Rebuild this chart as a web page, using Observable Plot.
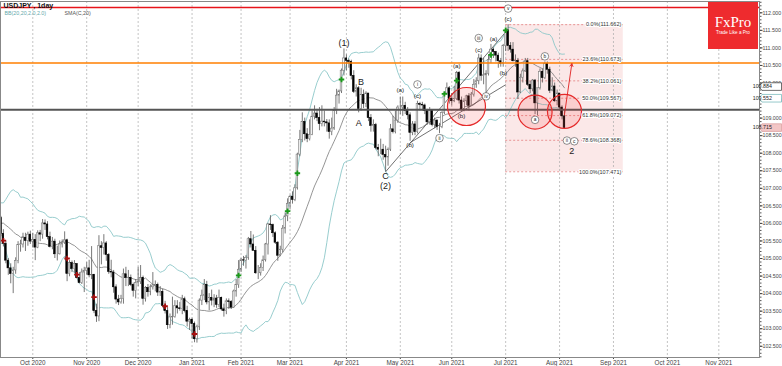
<!DOCTYPE html>
<html><head><meta charset="utf-8">
<script src="https://cdn.jsdelivr.net/npm/d3@7"></script>
<script src="https://cdn.jsdelivr.net/npm/@observablehq/plot@0.6"></script>
<style>html,body{margin:0;padding:0;background:#fff}#chart svg{display:block}</style>
</head><body><div id="chart"></div>
<script>
// ---------- DATA ----------
const firstDay = "2020-09-14";
const lastDay = "2021-11-30";
const skippedDays = ["2020-12-25", "2021-01-01"];
// closes before the visible window (Aug 17 - Sep 11 2020), only used by the 20-day indicators
const warmupCloses = [106.00,105.40,106.12,105.80,105.78,105.95,106.38,106.00,106.58,105.37,105.90,105.95,106.18,106.18,106.24,106.25,105.93,106.10,106.14,106.16];
// daily candles [open, high, low, close]
const sep2020 = [[106.15,106.20,105.62,105.70],[105.70,105.82,105.33,105.42],[105.42,105.50,104.85,104.94],[104.94,105.00,104.52,104.72],[104.72,104.85,104.28,104.56],[104.56,104.75,104.00,104.66],[104.66,105.02,104.55,104.93],[104.93,105.48,104.85,105.38],[105.38,105.52,105.18,105.40],[105.40,105.72,105.30,105.58],[105.58,105.72,105.20,105.50],[105.50,105.75,105.35,105.68],[105.68,105.78,105.40,105.48]];
const oct2020 = [[105.48,105.72,105.30,105.53],[105.53,105.68,104.94,105.31],[105.31,105.79,105.28,105.72],[105.72,105.80,105.48,105.68],[105.68,106.11,105.55,106.00],[106.00,106.10,105.80,105.97],[105.97,106.05,105.53,105.61],[105.61,105.75,105.30,105.33],[105.33,105.60,105.25,105.48],[105.48,105.55,105.00,105.12],[105.12,105.35,104.93,105.12],[105.12,105.50,105.10,105.40],[105.40,105.53,105.30,105.45],[105.45,105.76,105.40,105.52],[105.52,105.55,104.34,104.56],[104.56,104.94,104.48,104.87],[104.87,104.93,104.60,104.70],[104.70,104.94,104.58,104.84],[104.84,104.85,104.42,104.44],[104.44,104.60,104.28,104.30],[104.30,104.70,104.26,104.60],[104.60,104.75,104.03,104.65]];
const nov2020 = [[104.65,104.88,104.53,104.72],[104.72,104.95,104.45,104.52],[104.52,105.34,104.40,104.53],[104.53,104.55,103.43,103.50],[103.50,103.70,103.18,103.35],[103.35,105.65,103.20,105.35],[105.35,105.48,104.82,105.30],[105.30,105.68,105.10,105.43],[105.43,105.48,104.92,105.10],[105.10,105.14,104.55,104.62],[104.62,104.95,104.45,104.60],[104.60,104.66,104.01,104.18],[104.18,104.25,103.70,103.83],[103.83,103.95,103.66,103.75],[103.75,103.95,103.70,103.85],[103.85,104.70,103.70,104.55],[104.55,104.75,104.20,104.45],[104.45,104.66,104.20,104.45],[104.45,104.53,104.20,104.25],[104.25,104.30,103.90,104.08],[104.08,104.40,103.85,104.30]];
const dec2020 = [[104.30,104.75,104.20,104.33],[104.33,104.80,104.26,104.44],[104.44,104.50,103.67,103.85],[103.85,104.20,103.76,104.16],[104.16,104.26,103.90,104.04],[104.04,104.25,103.94,104.18],[104.18,104.60,104.10,104.23],[104.23,104.36,104.05,104.25],[104.25,104.30,103.92,104.03],[104.03,104.20,103.92,104.05],[104.05,104.13,103.60,103.65],[103.65,103.78,103.42,103.50],[103.50,103.60,102.98,103.10],[103.10,103.42,103.00,103.32],[103.32,103.90,103.10,103.33],[103.33,103.80,103.30,103.64],[103.64,103.80,103.42,103.58],[103.58,103.75,103.50,103.56],[103.56,103.95,103.40,103.84],[103.84,103.90,103.45,103.50],[103.50,103.64,103.05,103.20],[103.20,103.30,102.95,103.25]];
const jan2021 = [[103.25,103.30,102.71,103.13],[103.13,103.19,102.60,102.70],[102.70,103.10,102.59,103.04],[103.04,103.85,102.95,103.80],[103.80,104.10,103.66,103.94],[103.94,104.40,103.80,104.25],[104.25,104.35,103.68,103.75],[103.75,104.00,103.51,103.88],[103.88,104.10,103.65,103.80],[103.80,103.97,103.60,103.86],[103.86,103.95,103.58,103.68],[103.68,104.10,103.60,103.88],[103.88,103.90,103.50,103.55],[103.55,103.70,103.33,103.50],[103.50,103.85,103.40,103.78],[103.78,103.85,103.55,103.76],[103.76,103.80,103.55,103.60],[103.60,104.10,103.58,104.06],[104.06,104.40,103.90,104.24],[104.24,104.94,104.15,104.68]];
const feb2021 = [[104.68,105.00,104.60,104.95],[104.95,105.06,104.78,104.94],[104.94,105.08,104.70,105.02],[105.02,105.60,104.95,105.55],[105.55,105.77,105.30,105.40],[105.40,105.67,105.20,105.22],[105.22,105.34,104.55,104.58],[104.58,104.80,104.40,104.58],[104.58,104.85,104.50,104.73],[104.73,105.07,104.63,104.95],[104.95,105.43,104.90,105.40],[105.40,106.00,105.10,105.97],[105.97,106.22,105.80,105.95],[105.95,105.98,105.60,105.72],[105.72,105.76,105.40,105.45],[105.45,105.48,104.92,105.08],[105.08,105.35,105.05,105.25],[105.25,105.94,105.16,105.85],[105.85,106.30,105.70,106.20],[106.20,106.70,106.05,106.56]];
const mar2021 = [[106.56,106.80,106.40,106.76],[106.76,106.90,106.55,106.67],[106.67,107.10,106.62,107.00],[107.00,108.00,106.95,107.96],[107.96,108.65,107.90,108.38],[108.38,109.15,108.30,108.89],[108.89,109.00,108.35,108.54],[108.54,108.70,108.30,108.40],[108.40,108.95,108.35,108.52],[108.52,109.20,108.50,109.04],[109.04,109.35,108.95,109.13],[109.13,109.25,108.90,109.00],[109.00,109.30,108.64,108.83],[108.83,109.35,108.75,108.90],[108.90,109.20,108.75,108.88],[108.88,108.96,108.60,108.85],[108.85,108.95,108.40,108.60],[108.60,109.00,108.50,108.70],[108.70,109.30,108.65,109.20],[109.20,109.82,109.10,109.64],[109.64,109.80,109.40,109.76],[109.76,110.40,109.70,110.35],[110.35,110.97,110.20,110.70]];
const apr2021 = [[110.70,110.80,110.35,110.63],[110.63,110.68,110.42,110.60],[110.60,110.65,110.09,110.20],[110.20,110.35,109.70,109.75],[109.75,109.95,109.60,109.85],[109.85,109.90,109.15,109.26],[109.26,109.85,109.20,109.66],[109.66,109.80,109.27,109.40],[109.40,109.75,109.30,109.70],[109.70,109.70,108.90,109.00],[109.00,109.10,108.60,108.78],[108.78,108.95,108.60,108.80],[108.80,108.85,108.10,108.15],[108.15,108.25,107.90,108.10],[108.10,108.40,107.96,108.10],[108.10,108.25,107.80,107.95],[107.95,108.20,107.471,107.88],[107.88,108.15,107.63,108.10],[108.10,108.82,108.05,108.68],[108.68,109.05,108.55,108.60],[108.60,109.20,108.55,108.93],[108.93,109.35,108.85,109.30]];
const may2021 = [[109.30,109.60,109.10,109.30],[109.30,109.60,109.05,109.35],[109.35,109.45,109.10,109.20],[109.20,109.30,108.95,109.08],[109.08,109.15,108.34,108.58],[108.58,108.90,108.50,108.82],[108.82,108.90,108.50,108.60],[108.60,109.48,108.55,109.40],[109.40,109.45,109.20,109.38],[109.38,109.45,109.20,109.36],[109.36,109.40,109.10,109.20],[109.20,109.25,108.80,108.88],[108.88,109.30,108.80,109.20],[109.20,109.22,108.75,108.80],[108.80,109.00,108.70,108.93],[108.93,108.95,108.65,108.75],[108.75,108.85,108.56,108.75],[108.75,109.18,108.70,109.15],[109.15,109.72,109.10,109.70],[109.70,110.00,109.65,109.85],[109.85,109.90,109.40,109.55]];
const jun2021 = [[109.55,109.70,109.35,109.48],[109.48,109.90,109.44,109.55],[109.55,110.33,109.50,110.28],[110.28,110.33,109.40,109.50],[109.50,109.60,109.20,109.25],[109.25,109.55,109.18,109.48],[109.48,109.65,109.35,109.62],[109.62,109.70,109.20,109.35],[109.35,109.73,109.35,109.67],[109.67,110.10,109.60,109.95],[109.95,110.15,109.85,110.05],[110.05,110.82,109.95,110.70],[110.70,110.80,110.05,110.20],[110.20,110.70,109.95,110.22],[110.22,110.35,109.70,110.26],[110.26,110.80,110.20,110.65],[110.65,111.10,110.55,110.95],[110.95,111.00,110.70,110.88],[110.88,110.90,110.60,110.78],[110.78,110.85,110.42,110.62],[110.62,110.70,110.45,110.55],[110.55,111.10,110.45,111.05]];
const jul2021 = [[111.05,111.55,110.90,111.50],[111.50,111.662,110.90,111.05],[111.05,111.15,110.85,110.95],[110.95,111.15,110.60,110.62],[110.62,110.80,110.45,110.63],[110.63,110.70,109.53,109.73],[109.73,110.25,109.70,110.15],[110.15,110.40,110.00,110.33],[110.33,110.70,110.30,110.62],[110.62,110.70,109.90,109.95],[109.95,110.05,109.70,109.82],[109.82,110.10,109.75,110.07],[110.07,110.10,109.10,109.42],[109.42,109.85,109.07,109.85],[109.85,110.40,109.80,110.32],[110.32,110.40,110.00,110.14],[110.14,110.60,110.10,110.54],[110.54,110.60,110.25,110.38],[110.38,110.45,109.70,109.78],[109.78,110.15,109.75,109.90],[109.90,110.00,109.45,109.48],[109.48,109.80,109.35,109.70]];
const aug2021 = [[109.70,109.70,109.20,109.30],[109.30,109.35,108.95,109.05],[109.05,109.25,108.71,108.715]];

// horizontal levels: resistance (red), resistance (orange), support (black)
const redLevel = 112.15, orangeLevel = 110.57, blackLevel = 109.24;
// Fibonacci retracement
const fibHigh = 111.662, fibLow = 107.471;
const fibPercents = [0, 23.6, 38.2, 50, 61.8, 78.6, 100];
const fibStart = "2021-07-01", fibEnd = "2021-09-07";
// axis price tags
const smaTag = 109.884, bbTag = 109.552, bidTag = 108.715;
const yTickValues = [102.5,103,103.5,104,104.5,105,105.5,106,106.5,107,107.5,108,108.5,109,109.5,110,110.5,111,111.5,112];
// indicator markers
const greenDates = ["2021-01-29","2021-02-26","2021-03-04","2021-03-30","2021-05-27","2021-06-03","2021-06-23","2021-07-01"];
const greenValues = [104.52,106.35,107.43,110.10,109.69,110.07,110.80,111.50];
const redDates = ["2020-09-15","2020-10-21","2020-10-27","2020-11-05","2020-12-16","2021-01-05"];
const redValues = [105.51,105.00,104.54,103.90,103.64,102.85];
// Elliott wave labels [text, date, price]
const bigLabels = [["(1)","2021-03-31",111.15],["B","2021-04-09",110.02],["A","2021-04-08",108.87],["C","2021-04-23",107.36],["(2)","2021-04-23",107.07],["2","2021-08-09",108.06]];
const smallLabels = [["(a)","2021-05-03",109.81],["(b)","2021-05-07",108.22],["(c)","2021-05-12",109.64],["(a)","2021-06-03",110.47],["(b)","2021-06-07",109.07],["(c)","2021-06-16",110.95],["(a)","2021-06-24",111.26],["(b)","2021-06-30",110.28],["(c)","2021-07-02",111.81]];
const circledLabels = [["i","2021-05-12",109.96],["ii","2021-05-25",108.43],["iii","2021-06-16",111.28],["iv","2021-06-21",109.62],["v","2021-07-02",112.12],["a","2021-07-19",108.95],["b","2021-07-23",110.76],["ii","2021-08-05",108.36],["c","2021-08-10",108.34]];
// red circles [date, price]
const bigCircle = [["2021-06-09",109.33]];
const smallCircles = [["2021-07-19",109.17],["2021-08-04",109.19]];
// projection arrow and trend lines
const arrowPts = [["2021-08-04",109.10,"2021-08-09",110.55]];
const trendLines = [["2021-04-23",107.471,"2021-07-01",111.45],["2021-05-07",108.30,"2021-07-01",109.95]];

// ---------- BUILD ----------
const iso = d3.utcFormat("%Y-%m-%d");
const days = d3.utcDays(new Date(firstDay), d3.utcDay.offset(new Date(lastDay), 1))
  .filter(d => d.getUTCDay() !== 0 && d.getUTCDay() !== 6 && !skippedDays.includes(iso(d)));
const dayIndex = new Map(days.map((d, i) => [iso(d), i]));
const at = s => dayIndex.get(s);

const months = [sep2020, oct2020, nov2020, dec2020, jan2021, feb2021, mar2021, apr2021, may2021, jun2021, jul2021, aug2021];
const bars = months.flat().map(([o, h, l, c], i) => ({i, o, h, l, c, up: c >= o}));

const allCloses = warmupCloses.concat(bars.map(b => b.c));
const W = warmupCloses.length;
const bb = bars.map((b, k) => {
  const w = allCloses.slice(W + k - 19, W + k + 1);
  const m = d3.mean(w);
  const s = Math.sqrt(d3.mean(w, x => (x - m) ** 2));
  return {i: b.i, mid: m, up: m + 2 * s, lo: m - 2 * s};
});

const monthTicks = days.map((d, i) => ({d, i})).filter(({d, i}) => i > 0 && d.getUTCMonth() !== days[i - 1].getUTCMonth());
const monthLabel = new Map(monthTicks.map(({d, i}) => [i, d3.utcFormat("%b %Y")(d)]));

const fibRows = fibPercents.map(p => {
  const v = fibHigh - (fibHigh - fibLow) * p / 100;
  return {v, label: `${p.toFixed(1)}%(${v.toFixed(3)})`};
});
const fibBox = [{x1: at(fibStart), x2: at(fibEnd), y1: fibLow, y2: fibHigh}];

const lab = arr => arr.map(([t, d, v]) => ({t, i: at(d), v}));
const pts = arr => arr.map(([d, v]) => ({i: at(d), v}));
const segs = arr => arr.map(([d1, v1, d2, v2]) => ({x1: at(d1), y1: v1, x2: at(d2), y2: v2}));
const greens = greenDates.map((d, k) => ({i: at(d), v: greenValues[k]}));
const reds = redDates.map((d, k) => ({i: at(d), v: redValues[k]}));

const plot = Plot.plot({
  width: 782, height: 366,
  marginLeft: 0, marginRight: 23, marginTop: 1, marginBottom: 9,
  x: {type: "linear", domain: [-0.18, 309.6], axis: null},
  y: {domain: [102.18, 112.322], axis: null},
  style: {fontFamily: "'Liberation Sans', Arial, sans-serif", fontSize: "6.5px", background: "#fff", color: "#333", overflow: "visible"},
  marks: [
    Plot.rect(fibBox, {x1: "x1", x2: "x2", y1: "y1", y2: "y2", fill: "#f7cccc", fillOpacity: 0.45}),
    Plot.ruleX(monthTicks, {x: "i", stroke: "#aaa", strokeWidth: 0.7, strokeDasharray: "2,2"}),
    Plot.ruleY(fibRows, {y: "v", x1: at(fibStart), x2: at(fibEnd), stroke: "#e07070", strokeWidth: 0.7, strokeDasharray: "2,2"}),
    Plot.line(bb, {x: "i", y: "up", stroke: "#8cc7c8", strokeWidth: 0.9}),
    Plot.line(bb, {x: "i", y: "lo", stroke: "#8cc7c8", strokeWidth: 0.9}),
    Plot.line(bb, {x: "i", y: "mid", stroke: "#7a7a7a", strokeWidth: 0.8}),
    Plot.link(segs(trendLines), {x1: "x1", y1: "y1", x2: "x2", y2: "y2", stroke: "#333", strokeWidth: 0.7}),
    Plot.ruleX(bars, {x: "i", y1: "l", y2: "h", stroke: "#555", strokeWidth: 0.8}),
    Plot.rect(bars, {x1: d => d.i - 0.33, x2: d => d.i + 0.33, y1: "o", y2: "c",
      fill: d => d.up ? "#fff" : "#000", stroke: d => d.up ? "#777" : "#000", strokeWidth: 0.6}),
    Plot.dot(greens, {x: "i", y: "v", symbol: "cross", r: 2.3, fill: "#1a9a1a"}),
    Plot.dot(reds, {x: "i", y: "v", symbol: "cross", r: 2.3, fill: "#a81010"}),
    Plot.ruleY([redLevel], {stroke: "#e8141b", strokeWidth: 1.4}),
    Plot.ruleY([orangeLevel], {stroke: "#ff7f00", strokeWidth: 1.4}),
    Plot.ruleY([blackLevel], {stroke: "#555", strokeWidth: 2}),
    Plot.dot(pts(bigCircle), {x: "i", y: "v", r: 19, fill: "#ff3030", fillOpacity: 0.14, stroke: "#e52a2a", strokeWidth: 1.2}),
    Plot.dot(pts(smallCircles), {x: "i", y: "v", r: 17, fill: "#ff3030", fillOpacity: 0.14, stroke: "#e52a2a", strokeWidth: 1.2}),
    Plot.arrow(segs(arrowPts), {x1: "x1", y1: "y1", x2: "x2", y2: "y2", stroke: "#e02020", strokeWidth: 0.9, headLength: 5}),
    Plot.text(lab(bigLabels), {x: "i", y: "v", text: "t", fontSize: 9, fill: "#222"}),
    Plot.text(lab(smallLabels), {x: "i", y: "v", text: "t", fontSize: 6.2, fill: "#222"}),
    Plot.dot(lab(circledLabels), {x: "i", y: "v", r: 3.8, fill: "#fff", stroke: "#444", strokeWidth: 0.6}),
    Plot.text(lab(circledLabels), {x: "i", y: "v", text: "t", fontSize: 4.8, fill: "#222"}),
    Plot.text(fibRows, {x: at(fibEnd), y: "v", dx: -2, text: "label", textAnchor: "end", fontSize: 5.5, fill: "#333", stroke: "#fff", strokeWidth: 2.2, paintOrder: "stroke"}),
    Plot.axisX(monthTicks.map(d => d.i), {anchor: "bottom", tickSize: 2, tickPadding: 1, tickFormat: i => monthLabel.get(i), color: "#444", fontSize: 6.3}),
    Plot.axisY(d3.range(102.2, 112.31, 0.1), {anchor: "right", tickSize: 1.5, tickFormat: () => "", color: "#555"}),
    Plot.axisY(yTickValues, {anchor: "right", tickSize: 2.5, tickPadding: 0.5, tickFormat: d3.format(".3f"), color: "#444", fontSize: 5.3}),
    Plot.frame({stroke: "#888"}),
    Plot.text(["USDJPY , 1day"], {text: d => d, frameAnchor: "top-left", dx: 3, dy: 1.5, lineAnchor: "top", fontWeight: "bold", fontSize: 7, fill: "#111"}),
    Plot.text(["BB(20,20,2.0,2.0)"], {text: d => d, frameAnchor: "top-left", dx: 4, dy: 10, lineAnchor: "top", fontSize: 5.3, fill: "#5fa8aa"}),
    Plot.text(["SMA(C,20)"], {text: d => d, frameAnchor: "top-left", dx: 64, dy: 10, lineAnchor: "top", fontSize: 5.3, fill: "#555"})
  ]
});

const svg = d3.select(plot);
const ys = plot.scale("y");
function priceTag(v, fill, stroke) {
  const y = ys.apply(v);
  const g = svg.append("g");
  g.append("path").attr("d", `M759,${y} L762,${y - 3.8} L781.5,${y - 3.8} L781.5,${y + 3.8} L762,${y + 3.8} Z`)
    .attr("fill", fill).attr("stroke", stroke).attr("stroke-width", 0.7);
  g.append("text").attr("x", 762.3).attr("y", y).attr("dy", "0.35em").attr("font-size", 5.3)
    .attr("font-family", "'Liberation Sans', Arial, sans-serif").attr("fill", "#222")
    .text(d3.format(".3f")(v));
}
priceTag(smaTag, "#fff", "#333");
priceTag(bbTag, "#fff", "#6ab3b5");
priceTag(bidTag, "#f3c6c6", "#d89a9a");

const logo = svg.append("g");
logo.append("rect").attr("x", 708).attr("y", 2).attr("width", 50).attr("height", 47).attr("fill", "#ee2b2e");
logo.append("text").attr("x", 733).attr("y", 27).attr("text-anchor", "middle").attr("fill", "#fff")
  .attr("font-family", "'Liberation Serif', 'DejaVu Serif', serif").attr("font-size", 15).text("FxPro");
logo.append("text").attr("x", 733).attr("y", 34).attr("text-anchor", "middle").attr("fill", "#fff")
  .attr("font-family", "'Liberation Sans', Arial, sans-serif").attr("font-size", 4.6).text("Trade Like a Pro");

document.getElementById("chart").append(plot);
</script>
</body></html>
